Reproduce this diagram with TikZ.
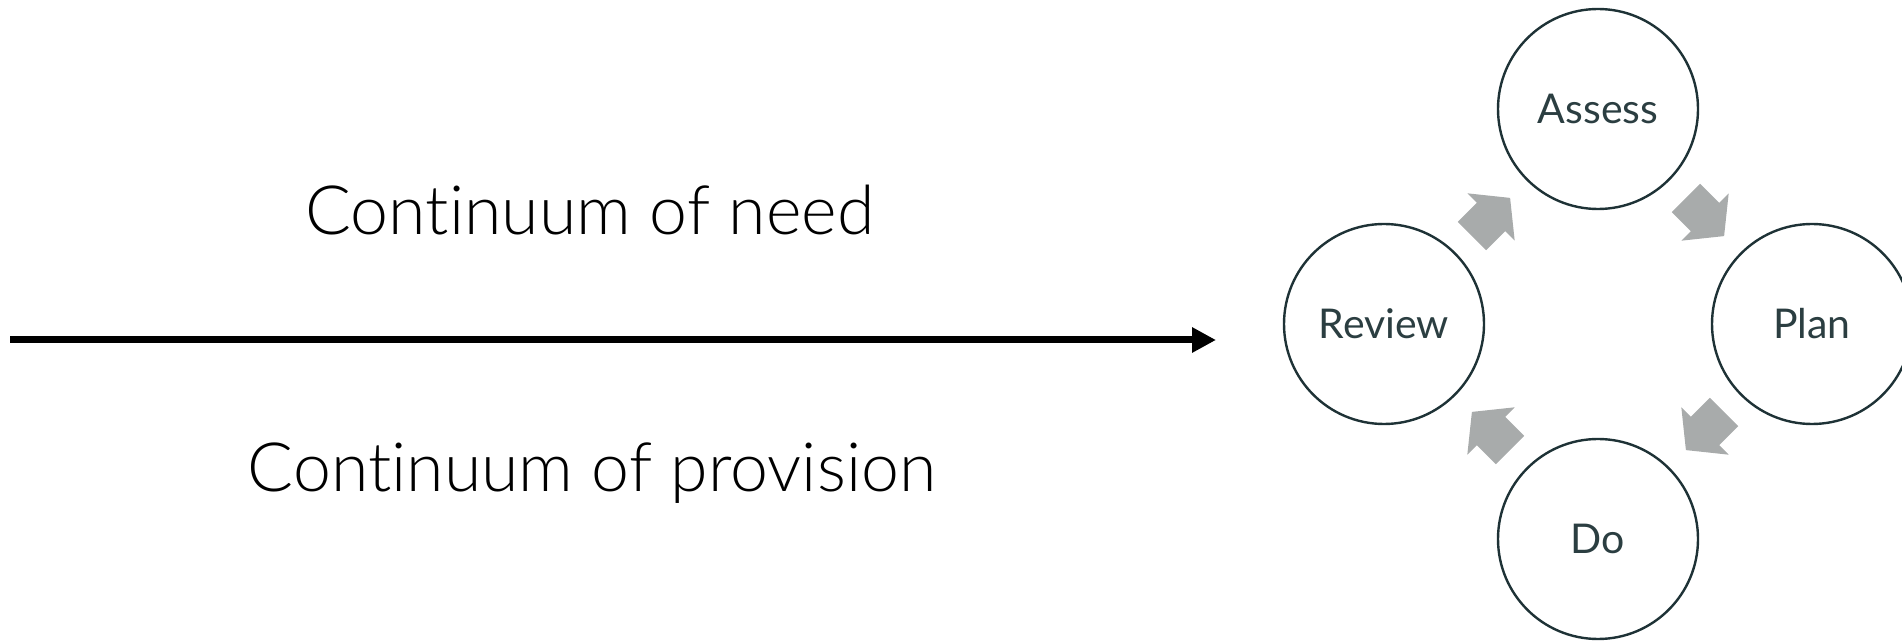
\documentclass[tikz,border=0pt]{standalone}
\usepackage{fontspec}
\IfFontExistsTF{Lato Light}
  {\setmainfont{Lato Light}[Ligatures={NoCommon,NoRare}]}
  {\setmainfont{Lato}[Ligatures={NoCommon,NoRare}]}
\newfontfamily\stagefont{Lato}[Ligatures={NoCommon,NoRare}]
\usetikzlibrary{arrows.meta}
\definecolor{ringline}{HTML}{1E3236}
\definecolor{ringtext}{HTML}{2B3E41}
\definecolor{flowgray}{HTML}{A8ABAB}
\begin{document}
\begin{tikzpicture}[x=0.5pt,y=0.5pt,
  stage/.style={circle, draw=ringline, line width=1.2pt, minimum size=100pt,
    inner sep=0pt, text=ringtext, font=\stagefont\fontsize{20.5}{24}\selectfont},
  bigtext/.style={anchor=base, text=black, font=\fontsize{34}{40}\selectfont},
  flowarrow/.style={fill=flowgray},
  mainline/.style={line width=3.5pt, -{Triangle[length=12pt,width=12pt]}}]
\clip (0,0) rectangle (1902,643);
\useasboundingbox (0,0) rectangle (1902,643);

% continuum labels and the axis between them
\node[bigtext] (need) at (590,408) {Continuum of need};
\node[bigtext] (provision) at (592,151) {Continuum of provision};
\coordinate (axisstart) at (10,303);
\coordinate (axisend) at (1216,303);
\draw[mainline] (axisstart) -- (axisend);

% assess-plan-do-review cycle
\node[stage] (assess) at (1598,534) {Assess};
\node[stage] (review) at (1384,319) {Review};
\node[stage] (plan) at (1812,319) {Plan};
\node[stage] (do) at (1598,104) {Do};

% block arrows showing the clockwise flow
\foreach \cx/\cy/\ang in {1491/426/45, 1705/426/-45, 1705/212/-135, 1491/212/135}{
  \fill[flowarrow, shift={(\cx,\cy)}, rotate=\ang]
    (-27,-20) -- (0,-20) -- (0,-33.5) -- (27,0) -- (0,33.5) -- (0,20) -- (-27,20) -- cycle;
}
\end{tikzpicture}
\end{document}
